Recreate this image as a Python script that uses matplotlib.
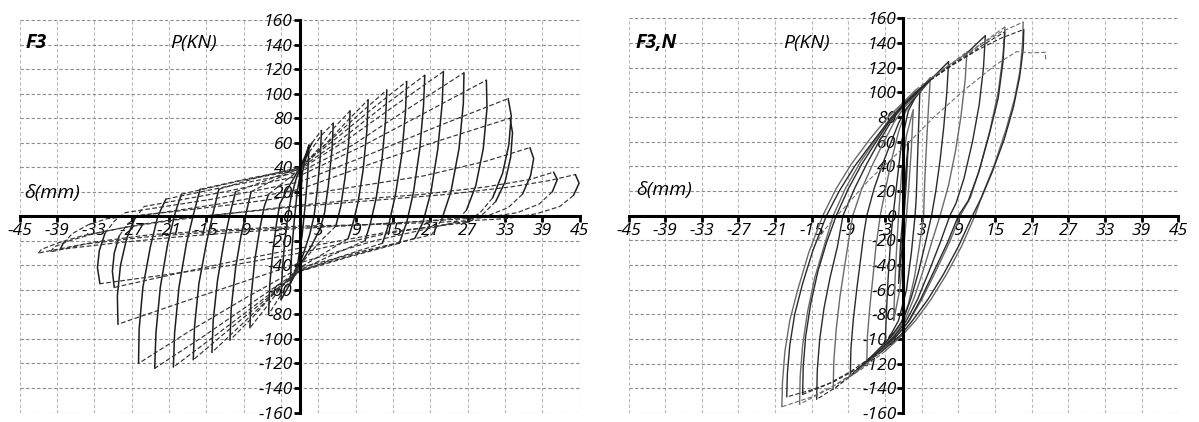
import numpy as np
import matplotlib.pyplot as plt

# axis ticks (same for both specimens)
x_ticks = [-45, -39, -33, -27, -21, -15, -9, -3, 3, 9, 15, 21, 27, 33, 39, 45]
y_ticks = list(range(-160, 161, 20))

# ---- specimen F3 : hysteresis loops, (delta mm, P kN)
f3_loop01 = [(0, 0), (0.4, 35), (1.5, 58), (1.3, 35), (0.9, 10), (0.4, -15), (-0.3, -38), (-1.5, -55),
             (-1.3, -30), (-0.9, -5), (-0.4, 20), (0.3, 40), (1.5, 58)]
f3_loop02 = [(-3, -68), (-2.8, -45), (-2.4, -20), (-1.9, 0), (-1.4, 15), (-0.6, 30), (0.5, 45), (2, 60),
             (3.5, 70), (3.3, 48), (2.8, 20), (2.3, 0), (1.6, -15), (0.5, -32), (-1, -50), (-3, -68)]
f3_loop03 = [(-5, -80), (-4.8, -55), (-4.3, -28), (-3.7, -5), (-3.2, 10), (-2, 22), (-0.5, 35), (1.5, 52),
             (3.5, 66), (5.4, 76), (5.2, 55), (4.6, 25), (4, 3), (3.3, -10), (1.8, -25), (0, -40),
             (-2.5, -60), (-5, -80)]
f3_loop04 = [(-8, -91), (-7.8, -65), (-7.2, -35), (-6.4, -10), (-5.7, 8), (-5, 18), (-2.5, 28), (0, 38),
             (3, 55), (5.5, 72), (8.1, 86), (7.9, 62), (7.3, 32), (6.6, 8), (5.8, -8), (3, -22), (0, -40),
             (-3, -58), (-5.5, -75), (-8, -91)]
f3_loop05 = [(-11.2, -101), (-11, -75), (-10.3, -42), (-9.4, -15), (-8.5, 5), (-7.8, 20), (-4, 30), (0, 39),
             (4, 58), (7.5, 77), (11, 95), (10.8, 70), (10.2, 38), (9.4, 12), (8.6, -5), (7.8, -18),
             (4, -30), (0, -42), (-4, -62), (-7.5, -82), (-11.2, -101)]
f3_loop06 = [(-14.1, -111), (-13.9, -85), (-13.2, -52), (-12.2, -22), (-11.2, 2), (-10.3, 20), (-5, 30),
             (0, 40), (4.5, 60), (9.5, 83), (14, 103), (13.8, 78), (13.2, 45), (12.3, 15), (11.4, -5),
             (10.5, -20), (5, -32), (0, -44), (-4.5, -65), (-9.5, -89), (-14.1, -111)]
f3_loop07 = [(-17.1, -117), (-16.9, -90), (-16.2, -55), (-15, -22), (-13.9, 3), (-13, 22), (-6.5, 32),
             (0, 40), (5.5, 62), (11.5, 87), (17.2, 110), (17, 85), (16.4, 50), (15.4, 18), (14.4, -5),
             (13.3, -22), (6.5, -33), (0, -45), (-5.5, -68), (-11.5, -93), (-17.1, -117)]
f3_loop08 = [(-20.3, -123), (-20.1, -95), (-19.4, -58), (-18.2, -22), (-17, 3), (-16, 22), (-8, 31),
             (0, 39), (6.5, 62), (13.5, 90), (20.1, 115), (19.9, 90), (19.3, 55), (18.3, 20), (17.2, -5),
             (16, -22), (8, -33), (0, -45), (-6.5, -70), (-13.5, -97), (-20.3, -123)]
f3_loop09 = [(-23.3, -124), (-23.1, -95), (-22.4, -58), (-21.2, -22), (-20, 3), (-19, 18), (-9.5, 29),
             (0, 38), (7.5, 62), (15.5, 91), (23.1, 118), (22.9, 92), (22.2, 55), (21.1, 20), (19.8, -5),
             (18.5, -18), (9, -31), (0, -44), (-7.5, -70), (-15.5, -98), (-23.3, -124)]
f3_loop10 = [(-25.9, -120), (-25.8, -92), (-25.2, -58), (-24, -25), (-22.8, 0), (-21.5, 14), (-11, 25),
             (0, 36), (8.5, 58), (17.5, 88), (26.4, 117), (26.3, 92), (25.6, 55), (24.3, 20), (22.8, -3),
             (21.2, -15), (10.5, -28), (0, -42), (-8.5, -66), (-17.5, -93), (-25.9, -120)]
f3_loop11 = [(-29.2, -88), (-29.3, -65), (-28.8, -40), (-27.8, -18), (-26.5, -2), (-25, 8), (-12, 20),
             (0, 33), (10, 57), (20, 84), (30, 111), (30.1, 88), (29.5, 55), (28.3, 25), (26.8, 5),
             (25, -5), (12, -20), (0, -38), (-10, -55), (-20, -72), (-29.2, -88)]
f3_loop12 = [(-32.1, -55), (-32.5, -42), (-32.2, -28), (-31.3, -14), (-29.8, -4), (-28, 3), (-14, 14),
             (0, 28), (11, 50), (22, 73), (33.5, 96), (34, 82), (33.6, 58), (32.6, 35), (31, 15), (29, 3),
             (27, -4), (14, -14), (0, -30), (-11, -40), (-22, -48), (-32.1, -55)]
f3_loop13 = [(-29.8, -58), (-30.1, -45), (-29.8, -30), (-29, -16), (-27.6, -6), (-26, 0), (-13, 10),
             (0, 22), (11, 42), (22, 61), (33.8, 80), (34.2, 68), (33.9, 48), (33, 28), (31.5, 12),
             (29.5, 2), (27, -5), (14, -13), (0, -26), (-10, -36), (-20, -47), (-29.8, -58)]
f3_loop14 = [(-38.5, -27), (-38, -22), (-36.5, -14), (-34, -7), (-31, -2), (-20, 4), (-10, 10), (0, 17),
             (10, 25), (20, 33), (30, 45), (37, 56), (37.6, 47), (37.1, 33), (35.8, 18), (33.5, 7),
             (30.5, 1), (20, -4), (10, -7), (0, -10), (-10, -13), (-20, -17), (-30, -22), (-38.5, -27)]
f3_loop15 = [(-42, -30), (-41.5, -27), (-39, -22), (-35, -16), (-28, -9), (-20, -3), (-10, 3), (0, 9),
             (10, 14), (20, 18), (30, 24), (37, 30), (40.8, 36), (41.4, 30), (40.6, 20), (38.5, 10),
             (35, 3), (30, -1), (20, -4), (10, -7), (0, -9), (-12, -12), (-25, -17), (-35, -23), (-42, -30)]
f3_loop16 = [(-40, -29), (-39.5, -25), (-37, -20), (-33, -14), (-26, -7), (-18, -1), (-8, 4), (0, 8),
             (12, 13), (24, 18), (34, 24), (40, 29), (44.3, 34), (44.9, 27), (44, 17), (41.8, 8), (38, 2),
             (33, -2), (22, -5), (10, -7), (0, -8), (-12, -11), (-24, -15), (-33, -21), (-40, -29)]

# ---- specimen F3,N
f3n_loop01 = [(0, 0), (0.3, 30), (0.8, 60), (0.5, 30), (0.1, 0), (-0.3, -30), (-0.8, -55), (-0.5, -25),
              (-0.1, 0), (0.3, 30)]
f3n_loop02 = [(-1.6, -85), (-1.4, -55), (-1.1, -25), (-0.8, 0), (-0.3, 35), (0.5, 65), (1.6, 86), (1.3, 55),
              (0.9, 25), (0.5, 0), (0, -30), (-0.6, -60), (-1.6, -85)]
f3n_loop03 = [(-3, -105), (-2.8, -80), (-2.5, -50), (-2.1, -20), (-1.7, 0), (-1, 30), (-0.3, 60), (0.8, 85),
              (2.7, 103), (2.5, 75), (2.3, 45), (2.1, 15), (1.9, 0), (1.3, -30), (0.5, -60), (-0.8, -85),
              (-3, -105)]
f3n_loop04 = [(-6, -120), (-5.9, -98), (-5.5, -74), (-5, -50), (-4.5, -25), (-3.8, 0), (-2.8, 25),
              (-1.8, 48), (-0.8, 68), (0.3, 84), (2, 98), (4.4, 112), (4.1, 88), (3.8, 60), (3.5, 30),
              (3.3, 0), (2.6, -25), (1.8, -50), (0.8, -72), (-0.5, -88), (-2.5, -102), (-6, -120)]
f3n_loop05 = [(-8.7, -130), (-8.6, -108), (-8.2, -84), (-7.6, -58), (-7, -35), (-6.5, -15), (-6, 0),
              (-4.8, 22), (-3.4, 42), (-2, 60), (-0.8, 75), (0.5, 87), (2.5, 99), (4.4, 110), (7.4, 125),
              (7.1, 100), (6.6, 72), (6, 45), (5.3, 20), (4.6, 0), (3.6, -22), (2.5, -45), (1.3, -66),
              (0, -84), (-2, -98), (-5, -113), (-8.7, -130)]
f3n_loop06 = [(-11.5, -141), (-11.4, -118), (-11, -92), (-10.4, -66), (-9.6, -40), (-8.9, -18), (-8.3, 0),
              (-6.8, 22), (-5, 42), (-3.2, 60), (-1.5, 76), (0, 87), (2.3, 99), (4.4, 110), (7, 120),
              (10.4, 133), (10.1, 110), (9.4, 80), (8.5, 52), (7.4, 25), (6, 0), (4.6, -22), (3.2, -45),
              (1.8, -66), (0.2, -85), (-1.8, -99), (-4.5, -113), (-8, -128), (-11.5, -141)]
f3n_loop07 = [(-14.2, -149), (-14.1, -125), (-13.7, -100), (-13, -75), (-12, -50), (-10.8, -25), (-9.9, 0),
              (-8, 22), (-6, 42), (-4, 60), (-1.8, 78), (0, 89), (2.3, 100), (4.4, 110), (7, 119),
              (10, 130), (13.4, 146), (13.1, 120), (12.4, 90), (11.3, 60), (9.9, 30), (8.6, 10), (7.6, 0),
              (6, -22), (4.2, -45), (2.3, -68), (0.5, -85), (-1.5, -98), (-4.5, -112), (-8, -127),
              (-11, -139), (-14.2, -149)]
f3n_loop08 = [(-17, -153), (-16.9, -130), (-16.5, -105), (-15.7, -78), (-14.5, -50), (-13, -25), (-11.5, 0),
              (-9.5, 22), (-7, 44), (-4.5, 62), (-2, 80), (0, 91), (2.2, 101), (4.4, 111), (7.5, 122),
              (10.5, 131), (13.5, 142), (16.6, 153), (16.3, 130), (15.5, 100), (14.2, 70), (12.6, 40),
              (11, 15), (9.3, 0), (7.5, -22), (5.3, -45), (3, -68), (1, -85), (-1, -97), (-4, -112),
              (-8, -127), (-12, -140), (-17, -153)]
f3n_loop09 = [(-16.5, -145), (-16.4, -122), (-16, -98), (-15.2, -72), (-14, -45), (-12.6, -22), (-11, 0),
              (-9, 22), (-6.8, 42), (-4.2, 62), (-1.8, 80), (0, 90), (2.2, 100), (4.4, 110), (7.5, 121),
              (10.5, 130), (13.5, 140), (16.6, 149), (16.3, 125), (15.5, 95), (14, 65), (12.3, 35),
              (10.6, 12), (9, 0), (7.2, -22), (5, -45), (2.8, -68), (0.8, -86), (-1.2, -98), (-4.5, -112),
              (-8.5, -126), (-12.5, -137), (-16.5, -145)]
f3n_loop10 = [(-19.9, -155), (-19.8, -135), (-19.4, -110), (-18.6, -85), (-17.3, -60), (-15.5, -30),
              (-13.2, 0), (-11, 22), (-8.5, 42), (-5.5, 62), (-2.5, 80), (0, 92), (2, 102), (4.4, 111),
              (8, 124), (12, 137), (16, 149), (19.6, 157), (19.5, 140), (19.1, 118), (18.2, 95),
              (16.8, 70), (14.8, 40), (13, 18), (11.7, 0), (9.5, -25), (7, -48), (4.5, -68), (2, -85),
              (0, -96), (-3, -110), (-7, -125), (-11, -137), (-15, -147), (-19.9, -155)]
f3n_loop11 = [(-19.1, -147), (-19, -128), (-18.6, -105), (-17.8, -80), (-16.5, -55), (-14.8, -28),
              (-12.6, 0), (-10.5, 20), (-8, 40), (-5, 60), (-2.2, 78), (0, 90), (2, 100), (4.4, 110),
              (8, 122), (12, 134), (16, 144), (19.7, 151), (19.6, 135), (19, 112), (18, 88), (16.5, 62),
              (14.5, 35), (12.8, 15), (11.3, 0), (9, -25), (6.5, -48), (4, -68), (1.5, -85), (-0.5, -97),
              (-3.5, -110), (-7.5, -124), (-11.5, -135), (-15.5, -142), (-19.1, -147)]
f3n_push = [(-14, -20), (-12.8, -10.7), (-5.5, 29.6), (0, 55), (5, 80), (10, 102), (15, 122), (18.5, 133),
            (21, 132), (23.2, 132.5), (23.3, 126)]

f3_loops = [f3_loop01, f3_loop02, f3_loop03, f3_loop04, f3_loop05, f3_loop06, f3_loop07, f3_loop08,
            f3_loop09, f3_loop10, f3_loop11, f3_loop12, f3_loop13, f3_loop14, f3_loop15, f3_loop16]
f3n_loops = [f3n_loop01, f3n_loop02, f3n_loop03, f3n_loop04, f3n_loop05, f3n_loop06, f3n_loop07,
             f3n_loop08, f3n_loop09, f3n_loop10, f3n_loop11]

plt.rcParams['font.family'] = ['Open Sans', 'DejaVu Sans']


def draw_loop(ax, pts, steep, solid_kw, dash_kw):
    # steep branches (unloading) solid, flatter branches (reloading) dashed
    pts = np.asarray(pts, dtype=float)
    is_steep = np.abs(np.diff(pts[:, 1])) > steep * np.abs(np.diff(pts[:, 0]))
    start = 0
    for i in range(1, len(is_steep) + 1):
        if i == len(is_steep) or is_steep[i] != is_steep[start]:
            seg = pts[start:i + 1]
            kw = solid_kw if is_steep[start] else dash_kw
            ax.plot(seg[:, 0], seg[:, 1], solid_capstyle='round', **kw)
            start = i


def style_axes(ax):
    ax.set_xlim(-45, 45)
    ax.set_ylim(-160, 160)
    ax.spines['left'].set_position(('data', 0))
    ax.spines['bottom'].set_position(('data', 0))
    ax.spines['top'].set_visible(False)
    ax.spines['right'].set_visible(False)
    for s in ('left', 'bottom'):
        ax.spines[s].set_linewidth(2.2)
        ax.spines[s].set_zorder(5)
    ax.set_xticks(x_ticks)
    ax.set_xticklabels([str(v) for v in x_ticks])
    ax.set_yticks(y_ticks)
    ax.set_yticklabels([str(v) for v in y_ticks])
    ax.tick_params(direction='out', length=4, width=2, labelsize=12.5, pad=1)
    for lab in ax.get_xticklabels() + ax.get_yticklabels():
        lab.set_fontstyle('italic')
    ax.xaxis.grid(True, color='#b8b8b8', linestyle=(0, (3, 2)), linewidth=0.8)
    ax.yaxis.grid(True, color='#8c8c8c', linestyle=(0, (3, 2)), linewidth=0.8)
    ax.set_axisbelow(True)
    ax.patch.set_alpha(0)


fig = plt.figure(figsize=(11.99, 4.22), dpi=100)
axL = fig.add_axes([0.0164, 0.0225, 0.4671, 0.930])
axR = fig.add_axes([0.5242, 0.0215, 0.4586, 0.935])

for ax in (axL, axR):
    style_axes(ax)

# F3
for k, loop in enumerate(f3_loops):
    draw_loop(axL, loop, 8,
              dict(color='#1e1e1e', lw=1.1),
              dict(color='#333333', lw=0.85, linestyle=(0, (4, 2))))

# F3,N
greys = ['#2a2a2a', '#6a6a6a']
for k, loop in enumerate(f3n_loops):
    c = greys[k % 2]
    draw_loop(axR, loop, 4,
              dict(color=c, lw=1.0),
              dict(color=c, lw=0.8, linestyle=(0, (4, 2))))
pts = np.asarray(f3n_push)
axR.plot(pts[:, 0], pts[:, 1], color='#707070', lw=0.8, linestyle=(0, (4, 2)))

# labels inside the panels
txt = dict(fontsize=14, fontstyle='italic', va='center')
axL.text(-44, 141, 'F3', fontweight='bold', **txt)
axL.text(-20.8, 141, 'P(KN)', **txt)
axL.text(-44.2, 19, 'δ(mm)', **txt)
axR.text(-43.8, 140, 'F3,N', fontweight='bold', **txt)
axR.text(-19.7, 140, 'P(KN)', **txt)
axR.text(-43.8, 20.5, 'δ(mm)', **txt)

fig.savefig('out.png', dpi=100)
